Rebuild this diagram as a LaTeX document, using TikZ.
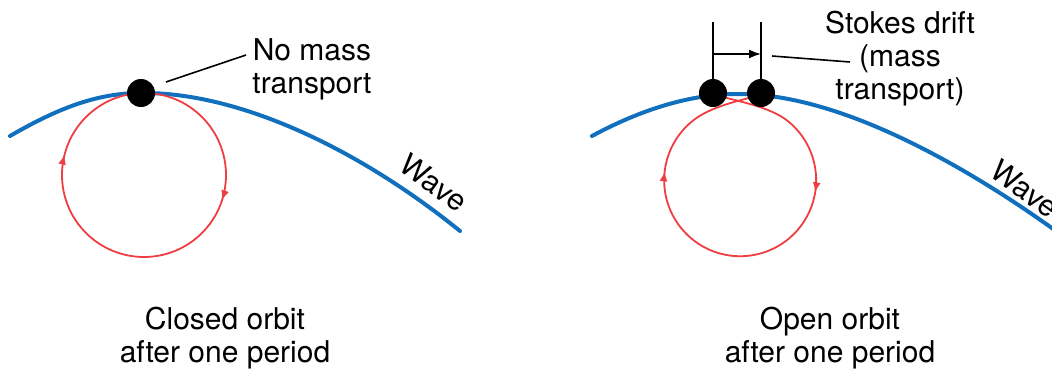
\documentclass[tikz,border=0pt]{standalone}
\usepackage{fontspec}
\setmainfont{TeX Gyre Heros}
\usetikzlibrary{arrows.meta,decorations.markings}
\definecolor{wavecol}{RGB}{16,112,190}
\definecolor{orbitcol}{RGB}{238,62,66}
\begin{document}
\begin{tikzpicture}[x=1pt,y=-1pt,
  wave/.style={wavecol, line width=4pt, line cap=round},
  orbit/.style={orbitcol, line width=1.8pt},
  particle/.style={circle, fill=black, minimum size=28pt, inner sep=0pt},
  leader/.style={black, line width=1.6pt},
  lbl/.style={font=\fontsize{30}{33}\selectfont, align=center, inner sep=0pt},
  orbarrows/.style n args={2}{postaction={decorate}, decoration={markings,
      mark=at position #1 with {\arrow{Latex[length=10pt,width=8pt]}},
      mark=at position #2 with {\arrow{Latex[length=10pt,width=8pt]}}}},
]
\useasboundingbox (0,0) rectangle (1052,370);
\clip (0,0) rectangle (1052,370);

% ---------- left panel ----------
\coordinate (w0s) at (10,136);
\coordinate (w0c) at (141,93);
\coordinate (w0e) at (460,231);
\draw[wave] (w0s) .. controls (55,110) and (95,93) .. (w0c)
                  .. controls (240,92) and (360,150) .. (w0e);
\draw[orbit, orbarrows={0.30}{0.79}] (144,93) arc[start angle=90, end angle=-270, radius=82pt];
\node[particle] (p0) at (141,93) {};
\coordinate (l0a) at (166,82);
\coordinate (l0b) at (246,55);
\draw[leader] (l0a) -- (l0b);
\node[lbl] (t0) at (312,69) {No mass\\transport};
\node[lbl, rotate=-36] (w0) at (434,183) {Wave};
\node[lbl] (c0) at (225,338) {Closed orbit\\after one period};

% ---------- right panel ----------
\coordinate (w1s) at (592,136);
\coordinate (w1c) at (737,94);
\coordinate (w1e) at (1056,231);
\draw[wave] (w1s) .. controls (640,110) and (690,94) .. (w1c)
                  .. controls (836,93) and (960,162) .. (w1e);
\coordinate (o1s) at (716,95);
\coordinate (o1r) at (789,122);
\coordinate (o1e) at (759,95);
\draw[orbit, orbarrows={0.30}{0.75}] (o1s) .. controls (735,101) and (770,106) .. (o1r)
   arc[start angle=50, end angle=-230, radius=76pt]
   .. controls (710,106) and (740,101) .. (o1e);
\node[particle] (p1) at (713,93) {};
\node[particle] (p2) at (761,93) {};
\coordinate (s1t) at (713,22);
\coordinate (s2t) at (761,22);
\draw[leader] (s1t) -- (p1.north);
\draw[leader] (s2t) -- (p2.north);
\coordinate (a1) at (713,54);
\coordinate (a2) at (761,54);
\draw[leader, -{Latex[length=12pt,width=9pt]}] (a1) -- (a2);
\coordinate (l1a) at (772,56);
\coordinate (l1b) at (850,62);
\draw[leader] (l1a) -- (l1b);
\node[lbl] (t1) at (900,59) {Stokes drift\\(mass\\transport)};
\node[lbl, rotate=-36] (w1) at (1025,189) {Wave};
\node[lbl] (c1) at (830,338) {Open orbit\\after one period};
\end{tikzpicture}
\end{document}
